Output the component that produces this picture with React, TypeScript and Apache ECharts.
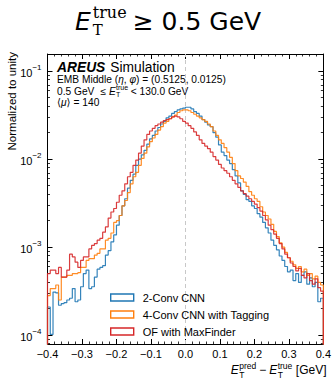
import React, { useEffect, useRef } from 'react';
import * as echarts from 'echarts';

// ---- data ----
const X_MIN = -0.4;
const X_MAX = 0.4;
const BIN_WIDTH = 0.008;
const Y_MIN_EXP = -4.1;
const Y_MAX_EXP = -0.805;
const Y_DECADES = [-4, -3, -2, -1];
const SERIES_NAMES = ['2-Conv CNN', '4-Conv CNN with Tagging', 'OF with MaxFinder'];
const COLORS = ['#1f77b4', '#ff7f0e', '#d62728'];

const CNN2 = [
  2.09e-4, 1.02e-4, 3.09e-4, 3.02e-4, 2.19e-4, 2.29e-4, 2.34e-4, 2.51e-4, 2.63e-4, 3.39e-4,
  2.40e-4, 2.51e-4, 3.55e-4, 5.01e-4, 5.50e-4, 3.39e-4, 3.55e-4, 4.57e-4, 5.62e-4, 5.89e-4,
  6.17e-4, 8.13e-4, 9.12e-4, 1.15e-3, 1.38e-3, 1.78e-3, 2.29e-3, 2.95e-3, 3.55e-3, 4.68e-3,
  5.75e-3, 6.76e-3, 8.51e-3, 1.00e-2, 1.12e-2, 1.26e-2, 1.48e-2, 1.70e-2, 1.86e-2, 2.09e-2,
  2.29e-2, 2.51e-2, 2.69e-2, 2.95e-2, 3.09e-2, 3.31e-2, 3.47e-2, 3.63e-2, 3.72e-2, 3.80e-2,
  3.89e-2, 3.89e-2, 3.72e-2, 3.47e-2, 3.31e-2, 3.09e-2, 2.82e-2, 2.63e-2, 2.45e-2, 2.34e-2,
  2.00e-2, 1.78e-2, 1.45e-2, 1.20e-2, 1.10e-2, 9.77e-3, 8.91e-3, 7.59e-3, 6.46e-3, 5.37e-3,
  4.37e-3, 3.98e-3, 3.47e-3, 3.31e-3, 2.95e-3, 2.75e-3, 2.40e-3, 2.19e-3, 1.91e-3, 1.66e-3,
  1.45e-3, 1.20e-3, 1.05e-3, 9.33e-4, 7.94e-4, 7.08e-4, 6.03e-4, 5.25e-4, 5.50e-4, 4.17e-4,
  5.01e-4, 3.98e-4, 4.79e-4, 5.25e-4, 3.80e-4, 4.47e-4, 3.55e-4, 3.98e-4, 2.40e-4, 2.63e-4,
];

const CNN4 = [
  2.82e-4, 3.39e-4, 3.39e-4, 3.72e-4, 2.51e-4, 4.57e-4, 4.57e-4, 4.79e-4, 4.79e-4, 5.01e-4,
  5.01e-4, 5.13e-4, 5.89e-4, 5.89e-4, 7.08e-4, 7.41e-4, 7.41e-4, 8.13e-4, 8.51e-4, 9.55e-4,
  9.55e-4, 1.20e-3, 1.26e-3, 1.45e-3, 1.91e-3, 2.00e-3, 2.29e-3, 2.95e-3, 3.39e-3, 4.17e-3,
  5.25e-3, 6.31e-3, 7.08e-3, 8.51e-3, 1.02e-2, 1.17e-2, 1.38e-2, 1.58e-2, 1.74e-2, 1.91e-2,
  2.14e-2, 2.34e-2, 2.57e-2, 2.69e-2, 2.88e-2, 3.02e-2, 3.16e-2, 3.39e-2, 3.55e-2, 3.63e-2,
  3.63e-2, 3.55e-2, 3.39e-2, 3.24e-2, 3.09e-2, 2.95e-2, 2.82e-2, 2.69e-2, 2.51e-2, 2.34e-2,
  2.09e-2, 1.86e-2, 1.66e-2, 1.51e-2, 1.35e-2, 1.20e-2, 1.05e-2, 8.91e-3, 7.41e-3, 6.46e-3,
  6.03e-3, 5.50e-3, 4.90e-3, 4.27e-3, 3.89e-3, 3.55e-3, 3.31e-3, 2.88e-3, 2.51e-3, 2.29e-3,
  2.09e-3, 1.82e-3, 1.51e-3, 1.32e-3, 1.12e-3, 1.00e-3, 8.71e-4, 7.59e-4, 6.92e-4, 6.31e-4,
  5.75e-4, 6.03e-4, 5.25e-4, 5.62e-4, 4.79e-4, 5.01e-4, 4.37e-4, 4.68e-4, 3.98e-4, 3.72e-4,
];

const OF_MAXFINDER = [
  5.01e-4, 5.50e-4, 5.50e-4, 5.01e-4, 5.89e-4, 4.57e-4, 4.57e-4, 5.50e-4, 8.32e-4, 7.76e-4,
  6.76e-4, 5.89e-4, 7.08e-4, 7.76e-4, 7.76e-4, 9.55e-4, 1.05e-3, 1.10e-3, 1.20e-3, 1.26e-3,
  1.48e-3, 1.70e-3, 2.14e-3, 2.51e-3, 2.75e-3, 3.24e-3, 3.89e-3, 4.37e-3, 5.25e-3, 6.31e-3,
  7.08e-3, 8.51e-3, 9.77e-3, 1.17e-2, 1.41e-2, 1.66e-2, 1.91e-2, 2.09e-2, 2.24e-2, 2.40e-2,
  2.51e-2, 2.63e-2, 2.75e-2, 2.82e-2, 2.88e-2, 3.02e-2, 3.09e-2, 3.02e-2, 2.88e-2, 2.69e-2,
  2.57e-2, 2.40e-2, 2.24e-2, 2.04e-2, 1.86e-2, 1.66e-2, 1.51e-2, 1.41e-2, 1.32e-2, 1.20e-2,
  1.07e-2, 9.77e-3, 8.71e-3, 7.94e-3, 7.41e-3, 6.92e-3, 6.31e-3, 5.75e-3, 5.25e-3, 4.79e-3,
  4.37e-3, 4.07e-3, 3.80e-3, 3.55e-3, 3.31e-3, 3.09e-3, 2.82e-3, 2.57e-3, 2.29e-3, 2.04e-3,
  1.78e-3, 1.58e-3, 1.41e-3, 1.26e-3, 1.10e-3, 9.55e-4, 8.32e-4, 7.59e-4, 6.61e-4, 6.03e-4,
  5.37e-4, 5.75e-4, 4.79e-4, 4.47e-4, 5.01e-4, 4.17e-4, 3.80e-4, 4.37e-4, 3.47e-4, 3.16e-4,
];

const SERIES_VALUES = [CNN2, CNN4, OF_MAXFINDER];

// ---- helpers ----
const SANS = '"Liberation Sans", Arial, sans-serif';
const DJS = '"DejaVu Sans", sans-serif';
const DJSERIF = '"DejaVu Serif", serif';

type Piece = { t: string; size: number; fam?: string; it?: boolean; bold?: boolean; dy?: number; gap?: number };
type Item = Piece | Piece[];

let mctx: CanvasRenderingContext2D | null = null;
function measure(p: Piece): number {
  if (!mctx) mctx = document.createElement('canvas').getContext('2d');
  mctx!.font = `${p.it ? 'italic ' : ''}${p.bold ? 'bold ' : ''}${p.size}px ${p.fam || SANS}`;
  return mctx!.measureText(p.t).width;
}

function row(items: Item[], x0: number, y: number, anchor: 'left' | 'right' = 'left'): any[] {
  const ws = items.map((it) => (Array.isArray(it) ? Math.max(...it.map(measure)) : measure(it)));
  const gaps = items.map((it) => (Array.isArray(it) ? it[0].gap : it.gap) || 0);
  const total = ws.reduce((a, b) => a + b, 0) + gaps.reduce((a, b) => a + b, 0);
  let x = anchor === 'right' ? x0 - total : x0;
  const out: any[] = [];
  items.forEach((it, i) => {
    x += gaps[i];
    (Array.isArray(it) ? it : [it]).forEach((p) => {
      out.push({
        type: 'text',
        x,
        y: y + (p.dy || 0),
        silent: true,
        style: {
          text: p.t,
          fontSize: p.size,
          fontFamily: p.fam || SANS,
          fontStyle: p.it ? 'italic' : 'normal',
          fontWeight: p.bold ? 'bold' : 'normal',
          fill: '#000',
          align: 'left',
          verticalAlign: 'middle',
        },
      });
    });
    x += ws[i];
  });
  return out;
}

function histData(vals: number[]): number[][] {
  const pts: number[][] = [[X_MIN, -8]];
  vals.forEach((v, i) => pts.push([X_MIN + i * BIN_WIDTH, Math.log10(v)]));
  pts.push([X_MAX, Math.log10(vals[vals.length - 1])]);
  pts.push([X_MAX, -8]);
  return pts;
}

export default function App() {
  const ref = useRef<HTMLDivElement>(null);
  useEffect(() => {
    if (!ref.current) return;
    const chart = echarts.init(ref.current, undefined, { renderer: 'svg' });

    const minor: number[] = [];
    for (let d = -5; d <= -1; d++) {
      for (let k = 2; k <= 9; k++) {
        const v = d + Math.log10(k);
        if (v > Y_MIN_EXP && v < Y_MAX_EXP) minor.push(v);
      }
    }

    const yBase: any = {
      type: 'value',
      min: Y_MIN_EXP,
      max: Y_MAX_EXP,
      splitLine: { show: false },
      axisLine: { show: true, onZero: false, lineStyle: { color: '#000', width: 1 } },
    };
    const hiddenLine = { show: false, onZero: false };
    const majorTick = { show: true, inside: true, length: 5, customValues: Y_DECADES, lineStyle: { color: '#000', width: 1 } };
    const minorTickY = { show: true, inside: true, length: 2.5, customValues: minor, lineStyle: { color: '#000', width: 0.8 } };

    const xBase: any = {
      type: 'value',
      min: X_MIN,
      max: X_MAX,
      interval: 0.1,
      splitLine: { show: false },
      axisLine: { show: true, onZero: false, lineStyle: { color: '#000', width: 1 } },
      axisTick: { show: true, inside: true, length: 5, lineStyle: { color: '#000', width: 1 } },
      minorTick: { show: true, splitNumber: 5, length: 2.5, lineStyle: { color: '#000', width: 0.8 } },
    };

    const fmtX = (v: number) => {
      const s = Math.abs(v).toFixed(1);
      return v < -1e-9 ? '\u2212' + s : s;
    };

    const graphics: any[] = [
      // title
      ...row(
        [
          { t: 'E', size: 25, fam: DJS, it: true },
          [
            { t: 'true', size: 16, fam: DJSERIF, dy: -8.5, gap: 2 },
            { t: 'T', size: 15, fam: DJSERIF, dy: 9 },
          ],
          { t: '\u2265', size: 25, fam: DJS, gap: 6 },
          { t: '0.5 GeV', size: 25, fam: DJS, gap: 8 },
        ],
        75,
        21
      ),
      // x axis label
      ...row(
        [
          { t: 'E', size: 12, it: true },
          [
            { t: 'pred', size: 8.5, dy: -4.5, gap: 0.5 },
            { t: 'T', size: 8.5, dy: 4.5 },
          ],
          { t: '\u2212', size: 12, gap: 3 },
          { t: 'E', size: 12, it: true, gap: 3 },
          [
            { t: 'true', size: 8.5, dy: -4.5, gap: 0.5 },
            { t: 'T', size: 8.5, dy: 4.5 },
          ],
          { t: '[GeV]', size: 12, gap: 3.5 },
        ],
        326.5,
        370,
        'right'
      ),
      // annotations
      ...row(
        [
          { t: 'AREUS', size: 13.8, bold: true, it: true },
          { t: 'Simulation', size: 13.8, gap: 5 },
        ],
        57,
        67
      ),
      ...row(
        [
          { t: 'EMB Middle (', size: 10.2 },
          { t: '\u03b7', size: 10.2, it: true },
          { t: ',', size: 10.2 },
          { t: '\u03c6', size: 10.2, it: true, gap: 2.8 },
          { t: ') = (0.5125, 0.0125)', size: 10.2 },
        ],
        57,
        79
      ),
      ...row(
        [
          { t: '0.5 GeV', size: 10.2 },
          { t: '\u2264', size: 10.2, gap: 6 },
          { t: 'E', size: 10.2, it: true, gap: 3 },
          [
            { t: 'true', size: 7, dy: -3.5, gap: 0.3 },
            { t: 'T', size: 7, dy: 3.5 },
          ],
          { t: '<', size: 10.2, gap: 2.5 },
          { t: '130.0 GeV', size: 10.2, gap: 3 },
        ],
        57,
        91
      ),
      ...row(
        [
          { t: '\u27e8', size: 10.2, fam: DJS },
          { t: '\u03bc', size: 10.2, it: true },
          { t: '\u27e9', size: 10.2, fam: DJS },
          { t: '= 140', size: 10.2, gap: 3 },
        ],
        57,
        102.5
      ),
      // y axis name
      {
        type: 'text',
        x: 12,
        y: 52,
        rotation: Math.PI / 2,
        silent: true,
        style: {
          text: 'Normalized to unity',
          fontSize: 11.5,
          fontFamily: SANS,
          fill: '#000',
          align: 'right',
          verticalAlign: 'middle',
        },
      },
    ];

    const option: any = {
      animation: false,
      backgroundColor: '#fff',
      grid: { left: 47.5, right: 8.5, top: 54, bottom: 34 },
      xAxis: [
        {
          ...xBase,
          position: 'bottom',
          axisLabel: {
            show: true,
            margin: 4,
            formatter: fmtX,
            fontSize: 11,
            fontFamily: SANS,
            color: '#000',
            showMinLabel: true,
            showMaxLabel: true,
          },
        },
        { ...xBase, position: 'top', axisLabel: { show: false } },
      ],
      yAxis: [
        {
          ...yBase,
          position: 'left',
          axisTick: majorTick,
          axisLabel: {
            show: true,
            customValues: Y_DECADES,
            margin: 6,
            formatter: (v: number) => `{b|10}{e|\u2212${Math.abs(Math.round(v))}}`,
            rich: {
              b: { fontSize: 11, fontFamily: SANS, color: '#000', lineHeight: 15, verticalAlign: 'bottom' },
              e: { fontSize: 8, fontFamily: SANS, color: '#000', lineHeight: 8, verticalAlign: 'top' },
            },
          },
        },
        { ...yBase, position: 'right', axisTick: majorTick, axisLabel: { show: false } },
        { ...yBase, position: 'left', axisLine: hiddenLine, axisTick: minorTickY, axisLabel: { show: false } },
        { ...yBase, position: 'right', axisLine: hiddenLine, axisTick: minorTickY, axisLabel: { show: false } },
      ],
      legend: {
        orient: 'vertical',
        left: 105,
        top: 287,
        itemWidth: 23,
        itemHeight: 7,
        itemGap: 6,
        icon: 'rect',
        textStyle: { fontSize: 11, fontFamily: SANS, color: '#000', padding: [0, 0, 0, 4], lineHeight: 11 },
        data: SERIES_NAMES.map((n, i) => ({
          name: n,
          icon: 'rect',
          itemStyle: { color: 'rgba(0,0,0,0)', borderColor: COLORS[i], borderWidth: 1.4 },
        })),
      },
      series: SERIES_VALUES.map((vals, i) => ({
        name: SERIES_NAMES[i],
        type: 'line',
        step: 'end',
        showSymbol: false,
        symbol: 'none',
        clip: true,
        xAxisIndex: 0,
        yAxisIndex: 0,
        data: histData(vals),
        lineStyle: { color: COLORS[i], width: 1.2, opacity: 0.9 },
        itemStyle: { color: COLORS[i] },
        z: 3 + i,
        markLine:
          i === 0
            ? {
                silent: true,
                symbol: 'none',
                label: { show: false },
                lineStyle: { color: '#c8c8c8', type: [4, 3], width: 1 },
                data: [{ xAxis: 0 }],
                z: 1,
              }
            : undefined,
      })),
      graphic: graphics,
    };

    chart.setOption(option);
    return () => chart.dispose();
  }, []);

  return (
    <div
      ref={ref}
      style={{ position: 'fixed', left: 0, top: 0, width: 334, height: 378, background: '#fff' }}
    />
  );
}
